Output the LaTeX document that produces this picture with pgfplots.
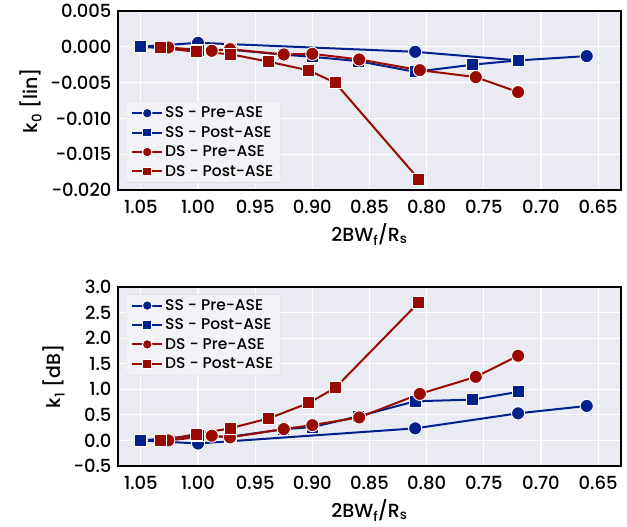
\documentclass[border=0pt]{standalone}
\usepackage{pgfplots}
\pgfplotsset{compat=1.18}
\usepackage{fontspec}
\setmainfont{Poppins}[UprightFont={* Medium}]

\definecolor{bgc}{HTML}{EAEAF2}
\definecolor{ssblue}{HTML}{00208C}
\definecolor{dsred}{HTML}{990A00}

\pgfplotsset{
  every axis/.append style={
    width=503pt, height=179pt, scale only axis,
    x dir=reverse, xmin=0.63, xmax=1.07,
    xtick={0.65,0.70,...,1.05},
    xticklabels={0.65,0.70,0.75,0.80,0.85,0.90,0.95,1.00,1.05},
    scaled y ticks=false,
    axis background/.style={fill=bgc},
    axis line style={black, line width=1.4pt},
    grid=major, major grid style={white, line width=1.2pt},
    major tick length=0pt,
    tick label style={font=\fontsize{18}{21}\selectfont},
    yticklabel style={xshift=-3pt},
    xticklabel style={yshift=-7pt},
    label style={font=\fontsize{19}{22}\selectfont},
    ylabel style={yshift=2pt},
    xlabel style={yshift=-2pt},
    xlabel={2BW\textsubscript{f}/R\textsubscript{s}},
    legend style={font=\fontsize{15.5}{18}\selectfont, fill=bgc!60!white, draw=black!15,
      rounded corners=2pt, row sep=3pt, inner xsep=5pt, inner ysep=3pt},
    legend cell align=left,
    legend image code/.code={
      \draw[mark repeat=2,mark phase=2,every mark/.append style={scale=0.72}]
        plot coordinates {(0pt,0pt) (15pt,0pt) (30pt,0pt)};},
  },
  ss/.style={ssblue, line width=2pt, mark options={fill=ssblue, draw=white, line width=0.9pt}},
  ds/.style={dsred, line width=2pt, mark options={fill=dsred, draw=white, line width=0.9pt}},
  pre/.style={mark=*, mark size=6.6pt},
  post/.style={mark=square*, mark size=6pt},
}

\begin{document}
\begin{tikzpicture}
\path[use as bounding box] (-118pt,11pt) rectangle (509pt,-516pt);
\begin{axis}[
  at={(0,0)}, anchor=north west,
  ymin=-0.02, ymax=0.005,
  ytick={-0.02,-0.015,-0.01,-0.005,0,0.005},
  yticklabels={−0.020,−0.015,−0.010,−0.005,0.000,0.005},
  ylabel={k\textsubscript{0} [lin]},
  legend style={at={(0.016,0.04)}, anchor=south west},
]
\addplot[ss, pre] coordinates {(1.05,0)(1.00,0.00056)(0.81,-0.0007)(0.72,-0.0019)(0.66,-0.0013)};
\addlegendentry{SS - Pre-ASE}
\addplot[ss, post] coordinates {(1.05,0)(1.00,-0.0005)(0.972,-0.0004)(0.925,-0.0011)(0.90,-0.0014)(0.86,-0.0020)(0.81,-0.0035)(0.76,-0.0025)(0.72,-0.0019)};
\addlegendentry{SS - Post-ASE}
\addplot[ds, pre] coordinates {(1.026,-0.0001)(0.988,-0.00056)(0.972,-0.00033)(0.925,-0.00107)(0.900,-0.00098)(0.859,-0.00177)(0.806,-0.00326)(0.757,-0.00423)(0.72,-0.00633)};
\addlegendentry{DS - Pre-ASE}
\addplot[ds, post] coordinates {(1.033,-0.00014)(1.001,-0.0007)(0.972,-0.00102)(0.938,-0.00209)(0.903,-0.0033)(0.880,-0.00502)(0.807,-0.01847)};
\addlegendentry{DS - Post-ASE}
\end{axis}

\begin{axis}[
  at={(0,-276pt)}, anchor=north west,
  ymin=-0.5, ymax=3,
  ytick={-0.5,0,0.5,1,1.5,2,2.5,3},
  yticklabels={−0.5,0.0,0.5,1.0,1.5,2.0,2.5,3.0},
  ylabel={k\textsubscript{1} [dB]},
  legend style={at={(0.016,0.96)}, anchor=north west},
]
\addplot[ss, pre] coordinates {(1.05,0)(1.00,-0.06)(0.81,0.236)(0.72,0.53)(0.66,0.674)};
\addlegendentry{SS - Pre-ASE}
\addplot[ss, post] coordinates {(1.05,0)(1.00,0.09)(0.972,0.07)(0.925,0.22)(0.90,0.26)(0.86,0.47)(0.81,0.766)(0.76,0.798)(0.72,0.949)};
\addlegendentry{SS - Post-ASE}
\addplot[ds, pre] coordinates {(1.026,0)(0.988,0.092)(0.972,0.06)(0.925,0.222)(0.900,0.30)(0.859,0.45)(0.806,0.91)(0.757,1.243)(0.72,1.656)};
\addlegendentry{DS - Pre-ASE}
\addplot[ds, post] coordinates {(1.033,0)(1.001,0.124)(0.972,0.236)(0.938,0.432)(0.903,0.733)(0.880,1.027)(0.807,2.696)};
\addlegendentry{DS - Post-ASE}
\end{axis}
\end{tikzpicture}
\end{document}
